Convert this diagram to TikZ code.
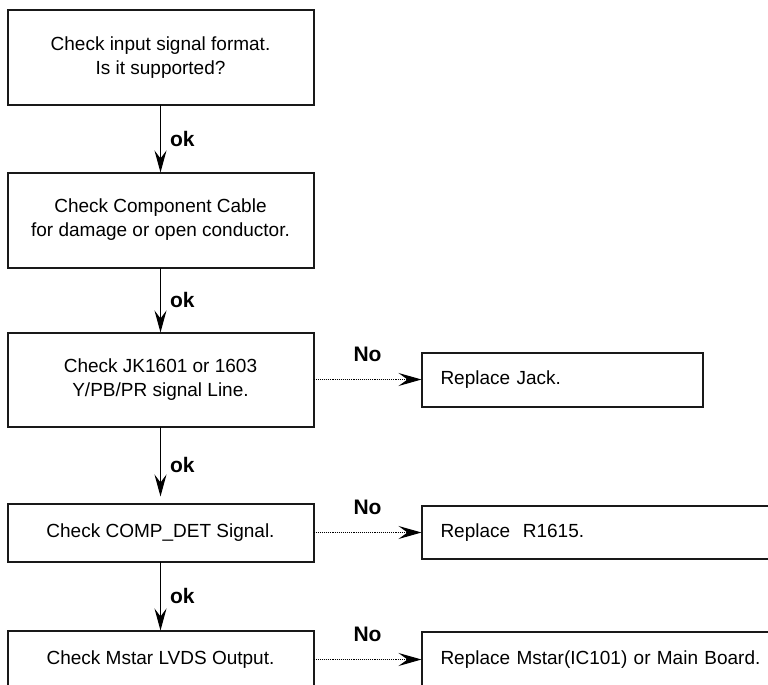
\documentclass[tikz,border=0pt]{standalone}
\usepackage{fontspec}
\setmainfont{Liberation Sans}
\usepackage{tikz}
\usetikzlibrary{positioning,arrows.meta}

\begin{document}
\begin{tikzpicture}[->,>={Stealth[length=22pt,width=12pt,inset=8pt]},auto,node distance=68pt,
		chk/.style={draw=black!90,line width=2pt,outer sep=0pt,minimum width=306pt,align=center,font=\fontsize{19}{24}\selectfont},
		rep/.style={draw=black!90,line width=2pt,outer sep=0pt,align=left,inner xsep=19pt,font=\fontsize{19}{24}\selectfont},
		lbl/.style={font=\fontsize{21}{24}\selectfont\bfseries,inner xsep=9pt,inner ysep=2pt},
		no/.style={line width=1.1pt,dash pattern=on 1.1pt off 1pt,>={Stealth[length=23pt,width=13pt,inset=9pt]}}]
		\clip (0,0) rectangle (768pt,-685pt);
		\node[chk,minimum height=94pt] (c1) at (160.5pt,-57.5pt) {Check input signal format.\\Is it supported?};
		\node[chk,minimum height=95pt] (c2) [below=of c1] {Check Component Cable\\for damage or open conductor.};
		\node[chk,minimum height=94pt] (c3) [below=65pt of c2] {Check JK1601 or 1603\\ Y/PB/PR signal Line.};
		\node[chk,minimum height=58pt] (c4) [below=77pt of c3] {Check COMP\_DET Signal.};
		\node[chk,minimum height=58pt] (c5) [below=69pt of c4] {Check Mstar LVDS Output.};
		\node[rep,text width=243pt,minimum height=54pt] (r3) [right=108pt of c3] {Replace Jack.};
		\node[rep,text width=382pt,minimum height=53pt] (r4) [right=108pt of c4] {Replace \ R1615.};
		\node[rep,text width=382pt,minimum height=55pt] (r5) [right=108pt of c5] {Replace Mstar(IC101) or Main Board.};
	
		\path[line width=1.3pt]
				(c1) edge node[lbl]{ok} (c2)
				(c2) edge node[lbl]{ok} (c3)
				(c3) edge[shorten >=7pt] node[lbl]{ok} (c4)
				(c4) edge node[lbl]{ok} (c5);
		\path 	(c3.east) edge[no] node[lbl,above=15pt]{No} (c3.east -| r3.west)
				(c4.east) edge[no] node[lbl,above=15pt]{No} (c4.east -| r4.west)
				(c5.east) edge[no] node[lbl,above=15pt]{No} (c5.east -| r5.west);
	\end{tikzpicture}
\end{document}
